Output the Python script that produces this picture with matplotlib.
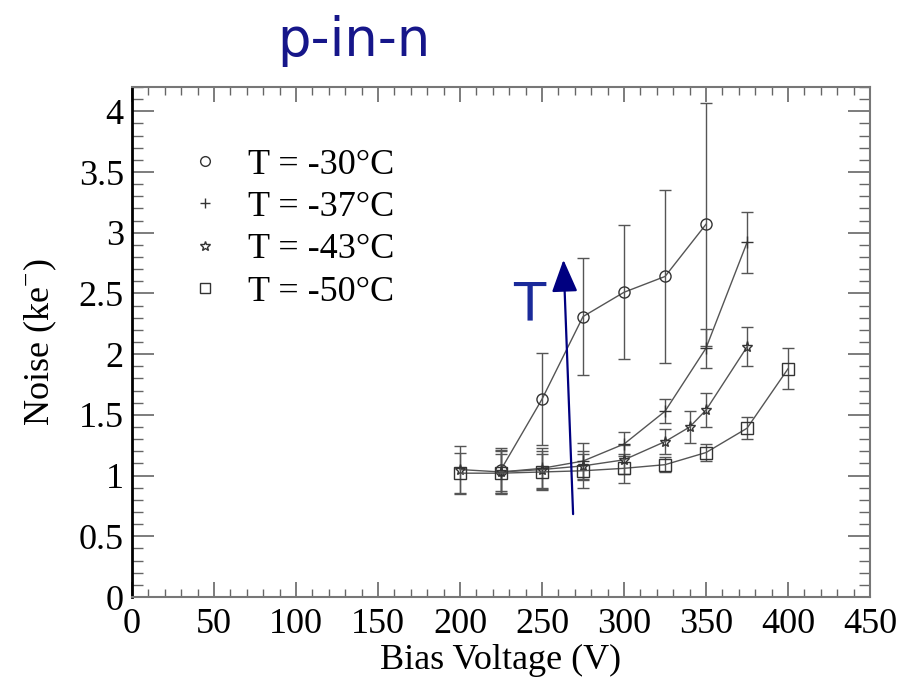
import matplotlib
matplotlib.use("Agg")
import matplotlib.pyplot as plt
from matplotlib.lines import Line2D
from matplotlib.ticker import MultipleLocator

plt.rcParams['font.family'] = ['Liberation Serif', 'DejaVu Serif']
plt.rcParams['mathtext.fontset'] = 'custom'
plt.rcParams['mathtext.rm'] = 'Liberation Serif'

# data
v30 = [225, 250, 275, 300, 325, 350]
n30 = [1.05, 1.63, 2.31, 2.51, 2.64, 3.07]
e30 = [0.18, 0.38, 0.48, 0.55, 0.71, 1.00]

v37 = [225, 250, 275, 300, 325, 350, 375]
n37 = [1.03, 1.06, 1.12, 1.26, 1.53, 2.05, 2.92]
e37 = [0.18, 0.17, 0.15, 0.10, 0.10, 0.16, 0.25]

v43 = [200, 225, 250, 275, 300, 325, 340, 350, 375]
n43 = [1.05, 1.03, 1.05, 1.08, 1.13, 1.28, 1.40, 1.54, 2.06]
e43 = [0.19, 0.17, 0.15, 0.12, 0.12, 0.10, 0.13, 0.14, 0.16]

v50 = [200, 225, 250, 275, 300, 325, 350, 375, 400]
n50 = [1.02, 1.02, 1.03, 1.04, 1.06, 1.09, 1.19, 1.39, 1.88]
e50 = [0.17, 0.16, 0.15, 0.14, 0.12, 0.06, 0.07, 0.09, 0.17]

labels = ['T = -30°C', 'T = -37°C', 'T = -43°C', 'T = -50°C']
markers = ['o', '+', '*', 's']

fig = plt.figure(figsize=(9.11, 6.80), dpi=100)
ax = fig.add_axes([0.145, 0.122, 0.810, 0.750])

series = [(v30, n30, e30), (v37, n37, e37), (v43, n43, e43), (v50, n50, e50)]
for (v, n, e), m in zip(series, markers):
    ax.errorbar(v, n, yerr=e, marker=m, ls='-', mfc='none', mec='#333333', ms=8, mew=1.0,
                color='#555555', ecolor='#555555', elinewidth=1.0, capsize=4,
                capthick=1.0, lw=1.0)

ax.set_xlim(0, 450)
ax.set_ylim(0, 4.2)
ax.xaxis.set_major_locator(MultipleLocator(50))
ax.xaxis.set_minor_locator(MultipleLocator(10))
ax.yaxis.set_major_locator(MultipleLocator(0.5))
ax.yaxis.set_minor_locator(MultipleLocator(0.1))
ax.yaxis.set_major_formatter(matplotlib.ticker.FuncFormatter(lambda y, p: '%g' % y))
ax.tick_params(which='both', direction='in', top=True, right=True, colors='#666666',
               labelcolor='black', labelsize=26)
ax.tick_params(axis='x', which='major', length=11, width=1.2, pad=8)
ax.tick_params(axis='x', which='minor', length=6, width=1.0)
ax.tick_params(axis='y', which='major', length=16, width=1.2, pad=6)
ax.tick_params(axis='y', which='minor', length=8, width=1.0)
for s in ax.spines.values():
    s.set_color('#777777')
    s.set_linewidth(1.5)
ax.spines['left'].set_color('black')
ax.spines['left'].set_linewidth(2)

ax.set_xlabel('Bias Voltage (V)', fontsize=26, labelpad=2)
ax.set_ylabel('Noise (ke$^{-}$)', fontsize=26, labelpad=14)

handles = [Line2D([], [], marker=m, ls='none', mfc='none', mec='#333333', ms=7, mew=1.0)
           for m in markers]
ax.legend(handles, labels, loc='upper left', bbox_to_anchor=(0.05, 0.915), frameon=False,
          fontsize=26, handlelength=1.0, handletextpad=0.7, labelspacing=0.25,
          borderpad=0)

# temperature arrow
ax.annotate('', xy=(263, 2.80), xytext=(269, 0.66),
            arrowprops=dict(arrowstyle='-|>,head_length=2.0,head_width=0.8',
                            color='#000080', lw=1.6))
ax.text(242, 2.4, 'T', color='#1a2a9a', fontsize=38, family='DejaVu Sans',
        ha='center', va='center')

fig.text(0.388, 0.94, 'p-in-n', color='#16168a', fontsize=38, family='DejaVu Sans',
         ha='center', va='center')

fig.savefig('out.png', dpi=100)
